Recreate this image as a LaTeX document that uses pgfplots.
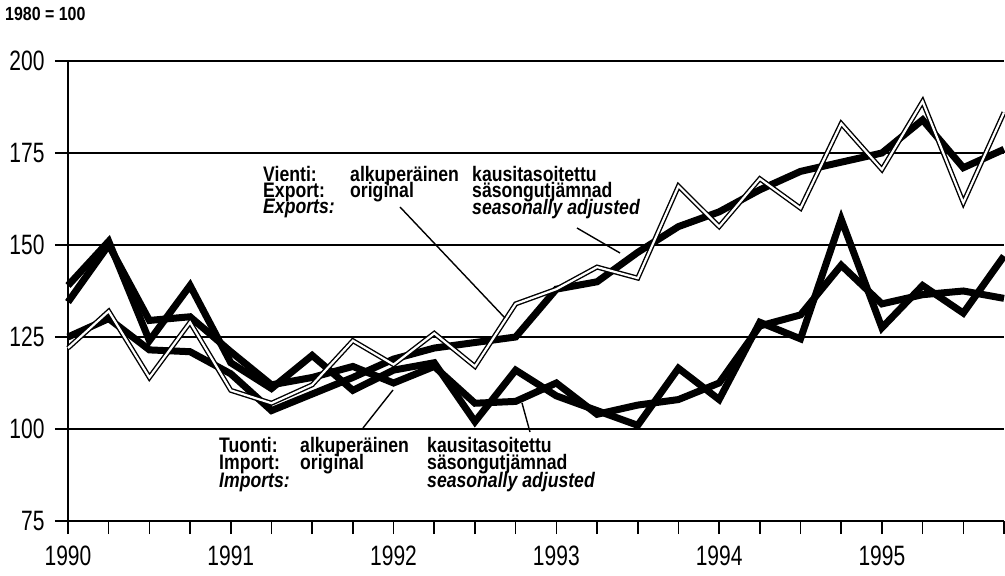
\documentclass[border=0pt]{standalone}
\usepackage{fontspec}
\setmainfont{Liberation Sans}
\newfontfamily\tickfont{Liberation Sans}[FakeStretch=0.75]
\newfontfamily\annfont{Liberation Sans}[FakeStretch=0.84]
\usepackage{pgfplots}
\usepackage{pgfplotstable}
\pgfplotsset{compat=1.18}

% quarter index 0 = 1990Q1 ... 23 = 1995Q4
\pgfplotstableread{
i  expo  exsa  impo  imsa
0  122   125   139   134.5
1  132   130   151   150
2  114   121.5 124   129.5
3  129   121   139   130.5
4  110.5 115   118   121
5  107   105   111   112
6  112   109.5 120   114
7  124   114   110.5 117
8  117.5 119   116   112.5
9  126   122   118   117
10 117   123.5 102   107
11 134   125   116   107.5
12 138   138   109   112.5
13 144   140   105   104
14 141   148   101   106.5
15 166   155   116.5 108
16 155   159   108   112.5
17 168   165   129   128
18 160   170   124.5 131
19 183   172.5 157   144.5
20 170.5 175   127.5 134
21 189   184   139   136.5
22 161.5 171   131.5 137.5
23 186   176   147   135.5
}\data

\begin{document}
\begin{tikzpicture}
\path[use as bounding box] (-68pt,-55pt) rectangle (937pt,521pt);
\begin{axis}[
  at={(0,0)}, anchor=south west,
  scale only axis, width=936pt, height=460pt,
  xmin=0, xmax=23, ymin=75, ymax=200,
  clip=false,
  axis x line*=bottom, axis y line*=left,
  x axis line style={-, line width=2pt},
  y axis line style={-, line width=2.6pt},
  xtick={0,4,8,12,16,20},
  xticklabels={1990,1991,1992,1993,1994,1995},
  minor xtick={1,2,3,5,6,7,9,10,11,13,14,15,17,18,19,21,22,23},
  ytick={75,100,125,150,175,200},
  tick align=outside,
  major tick length=13pt, minor tick length=13pt,
  every tick/.style={black, line width=1.6pt},
  ymajorgrids,
  major grid style={black, line width=1.2pt},
  /pgf/number format/assume math mode=true,
  xticklabel style={font=\tickfont\fontsize{28}{28}\selectfont, yshift=-8pt},
  yticklabel style={font=\tickfont\fontsize{28}{28}\selectfont, xshift=-7pt},
  thickline/.style={black, line width=7pt, line join=miter, miter limit=3},
]
\addplot[thickline] table[x=i, y=imsa] {\data};
\addplot[thickline] table[x=i, y=impo] {\data};
\addplot[thickline] table[x=i, y=exsa] {\data};
\addplot[black, line width=5pt, line join=miter, miter limit=3] table[x=i, y=expo] {\data};
\addplot[white, line width=2.2pt, line join=miter, miter limit=3] table[x=i, y=expo] {\data};
\end{axis}
% annotations (pt relative to lower-left of the axis box)
\begin{scope}[every node/.style={anchor=base west, inner sep=0pt, font=\annfont\bfseries\fontsize{21}{21}\selectfont}]
\node at (-63pt,500pt) {\fontsize{19}{19}\selectfont 1980 = 100};
\node at (195pt,339pt) {Vienti:};
\node at (195pt,323pt) {Export:};
\node at (195pt,307pt) {\itshape Exports:};
\node at (282pt,339pt) {alkuperäinen};
\node at (282pt,323pt) {original};
\node at (404pt,339pt) {kausitasoitettu};
\node at (404pt,323pt) {säsongutjämnad};
\node at (404pt,306pt) {\itshape seasonally adjusted};
\node at (151pt,68pt) {Tuonti:};
\node at (151pt,51pt) {Import:};
\node at (151pt,34pt) {\itshape Imports:};
\node at (232pt,68pt) {alkuperäinen};
\node at (232pt,51pt) {original};
\node at (359pt,68pt) {kausitasoitettu};
\node at (359pt,51pt) {säsongutjämnad};
\node at (359pt,34pt) {\itshape seasonally adjusted};
\end{scope}
\draw[black, line width=1.4pt] (332pt,314pt) -- (437pt,203pt);
\draw[black, line width=1.4pt] (509pt,293pt) -- (552pt,268pt);
\draw[black, line width=1.4pt] (295pt,93pt) -- (325pt,131pt);
\draw[black, line width=1.4pt] (462pt,89pt) -- (454pt,118pt);
\end{tikzpicture}
\end{document}
